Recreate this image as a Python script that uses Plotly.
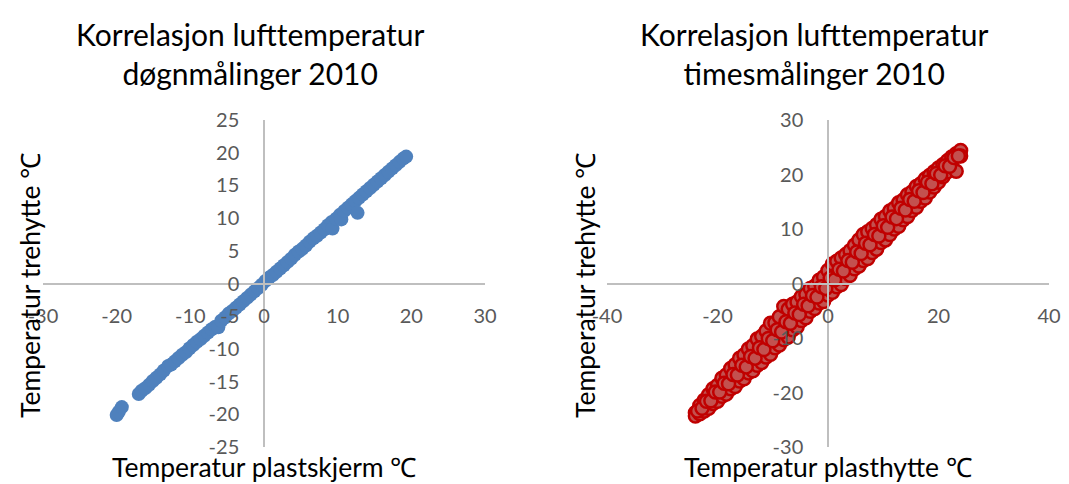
import plotly.graph_objects as go

# ---------------- data ----------------
# Daily measurements 2010 (plastskjerm vs trehytte)
daily_x = [-20.0, -19.7, -19.3, -17.0, -16.6, -16.1, -15.6, -15.1, -14.6, -14.1, -13.6,
           -13.0, -12.6, -12.1, -11.6, -11.1, -10.6, -10.1, -9.6, -9.1, -8.6, -8.1,
           -7.6, -7.1, -6.6, -6.2, -5.8, -5.3, -4.8, -4.3, -3.8, -3.3, -2.8, -2.3,
           -1.8, -1.3, -0.8, -0.3, 0.2, 0.7, 1.2, 1.7, 2.2, 2.7, 3.2, 3.7, 4.2, 4.7,
           5.2, 5.7, 6.2, 6.7, 7.2, 7.7, 8.2, 8.7, 9.2, 9.3, 9.8, 10.3, 10.5, 10.9,
           11.4, 11.9, 12.4, 12.7, 12.9, 13.4, 13.9, 14.4, 14.9, 15.4, 15.9, 16.4,
           16.9, 17.4, 17.9, 18.4, 18.9, 19.3]
daily_y = [-20.1, -19.6, -18.9, -16.9, -16.4, -16.0, -15.5, -14.9, -14.4, -13.9, -13.3,
           -12.6, -12.4, -11.9, -11.4, -10.9, -10.5, -9.9, -9.4, -8.9, -8.5, -8.0,
           -7.5, -7.0, -6.6, -6.7, -5.7, -5.2, -4.6, -4.2, -3.7, -3.2, -2.7, -2.2,
           -1.7, -1.2, -0.7, -0.2, 0.4, 0.9, 1.3, 1.8, 2.3, 2.8, 3.3, 3.8, 4.4, 4.9,
           5.3, 5.8, 6.4, 6.9, 7.3, 7.8, 8.3, 8.9, 9.4, 8.4, 9.9, 10.5, 9.8, 11.1,
           11.6, 12.1, 12.6, 10.8, 13.1, 13.6, 14.1, 14.6, 15.1, 15.6, 16.1, 16.6,
           17.1, 17.6, 18.1, 18.6, 19.1, 19.4]

# Hourly measurements 2010 (plasthytte vs trehytte), read as three bands
hourly_edge_x = [-24.0, -23.2, -22.4, -21.6, -20.8, -20.0, -19.2, -18.4, -17.6, -16.8,
                 -16.0, -15.2, -14.4, -13.6, -12.8, -12.0, -11.2, -10.4, -9.6, -8.8,
                 -8.0, -7.2, -6.4, -5.6, -4.8, -4.0, -3.2, -2.4, -1.6, -0.8,
                 0.0, 0.8, 1.6, 2.4, 3.2, 4.0, 4.8, 5.6, 6.4, 7.2,
                 8.0, 8.8, 9.6, 10.4, 11.2, 12.0, 12.8, 13.6, 14.4, 15.2,
                 16.0, 16.8, 17.6, 18.4, 19.2, 20.0, 20.8, 21.6, 22.4, 23.2, 24.0]
hourly_upper_y = [-23.7, -22.4, -21.4, -20.4, -19.3, -18.7, -17.4, -16.8, -15.6, -14.9,
                  -13.7, -13.1, -12.0, -11.4, -10.2, -9.7, -8.7, -7.3, -7.2, -6.1,
                  -4.2, -4.7, -3.8, -3.4, -2.4, -2.0, -0.9, -0.5, 0.6, 1.2,
                  2.4, 3.6, 4.1, 4.7, 5.3, 6.0, 7.0, 8.0, 9.0, 9.5,
                  10.1, 10.8, 11.8, 12.3, 13.3, 13.8, 14.8, 15.3, 16.3, 16.8,
                  17.8, 18.3, 19.2, 19.8, 20.5, 21.2, 21.8, 22.5, 23.2, 23.8, 24.4]
hourly_lower_y = [-24.3, -23.9, -23.4, -22.9, -22.0, -21.6, -20.7, -20.3, -19.3, -18.9,
                  -17.9, -17.5, -16.4, -16.0, -15.0, -14.5, -13.5, -13.0, -11.8, -11.3,
                  -10.3, -9.8, -8.5, -8.0, -6.8, -6.3, -5.1, -4.6, -3.6, -3.3,
                  -2.1, -1.6, -0.6, -0.2, 0.9, 1.5, 2.7, 3.2, 4.2, 4.6,
                  5.7, 6.3, 7.5, 8.0, 9.0, 10.0, 10.5, 11.7, 12.3, 13.4,
                  14.0, 15.1, 15.7, 16.8, 17.7, 18.6, 19.6, 20.5, 21.4, 20.6, 23.4]
hourly_mid_x = [-23.6, -22.8, -22.0, -21.2, -20.4, -19.6, -18.8, -18.0, -17.2, -16.4,
                -15.6, -14.8, -14.0, -13.2, -12.4, -11.6, -10.8, -10.0, -9.2, -8.4,
                -7.6, -6.8, -6.0, -5.2, -4.4, -3.6, -2.8, -2.0, -1.2, -0.4,
                0.4, 1.2, 2.0, 2.8, 3.6, 4.4, 5.2, 6.0, 6.8, 7.6,
                8.4, 9.2, 10.0, 10.8, 11.6, 12.4, 13.2, 14.0, 14.8, 15.6,
                16.4, 17.2, 18.0, 18.8, 19.6, 20.4, 21.2, 22.0, 22.8, 23.6]
hourly_mid_y = [-23.4, -22.9, -21.6, -21.5, -19.9, -19.9, -18.3, -18.4, -16.7, -16.8,
                -15.0, -15.3, -13.4, -13.7, -11.8, -12.1, -10.1, -10.5, -8.5, -8.9,
                -7.0, -7.3, -5.4, -5.7, -3.8, -4.1, -2.2, -2.5, -0.6, -0.9,
                1.0, 0.7, 2.6, 2.3, 4.2, 3.9, 5.8, 5.5, 7.4, 7.1,
                9.0, 8.7, 10.6, 10.3, 12.2, 11.9, 13.8, 13.5, 15.4, 15.1,
                17.0, 16.7, 18.6, 18.3, 20.2, 19.9, 21.6, 21.5, 23.1, 23.4]

# edges first, middle band drawn on top
hourly_x = hourly_edge_x + hourly_edge_x + hourly_mid_x
hourly_y = hourly_upper_y + hourly_lower_y + hourly_mid_y

x1_ticks = [-30, -20, -10, 0, 10, 20, 30]
y1_ticks = [-25, -20, -15, -10, -5, 0, 5, 10, 15, 20, 25]
x2_ticks = [-40, -20, 0, 20, 40]
y2_ticks = [-30, -20, -10, 0, 10, 20, 30]

# ---------------- layout geometry ----------------
W, H = 1069, 484
def px(x):
    return x / W
def py(y):
    return 1 - y / H

dom_y = [py(447), py(120)]
dom_x1 = [px(43), px(485)]
dom_x2 = [px(607), px(1049)]
mid_y = (dom_y[0] + dom_y[1]) / 2
mid_x1 = (dom_x1[0] + dom_x1[1]) / 2
mid_x2 = (dom_x2[0] + dom_x2[1]) / 2

FONT = "Lato, 'Open Sans', sans-serif"
TICK_FONT = dict(family=FONT, size=20, color="#595959")
AXIS_LINE = "#BFBFBF"

fig = go.Figure()
fig.add_trace(go.Scatter(
    x=daily_x, y=daily_y, mode="markers", xaxis="x", yaxis="y",
    marker=dict(size=14, color="#4F81BD", line=dict(width=0)),
    showlegend=False, hoverinfo="skip"))
fig.add_trace(go.Scatter(
    x=hourly_x, y=hourly_y, mode="markers", xaxis="x2", yaxis="y2",
    marker=dict(size=13, color="#C3514F", line=dict(width=2.5, color="#C00000")),
    showlegend=False, hoverinfo="skip"))

def labels(ticks):
    return [str(t) for t in ticks]  # plain hyphen-minus like the reference

def axis(domain, pos, rng, ticks, standoff):
    return dict(domain=domain, anchor="free", position=pos, range=rng,
                tickvals=ticks, ticktext=labels(ticks), showgrid=False,
                zeroline=False, showline=True, automargin=False,
                linecolor=AXIS_LINE, linewidth=1.5, ticks="",
                ticklabelstandoff=standoff, tickfont=TICK_FONT, fixedrange=True)

fig.update_layout(
    width=W, height=H,
    margin=dict(l=0, r=0, t=0, b=0, autoexpand=False),
    paper_bgcolor="white", plot_bgcolor="white",
    hovermode=False,
    xaxis=axis(dom_x1, mid_y, [-30, 30], x1_ticks, 15),
    yaxis=axis(dom_y, mid_x1, [-25, 25], y1_ticks, 20),
    xaxis2=axis(dom_x2, mid_y, [-40, 40], x2_ticks, 15),
    yaxis2=axis(dom_y, mid_x2, [-30, 30], y2_ticks, 20),
)

TITLE_FONT = dict(family=FONT, size=30, color="#000000")
AXT_FONT = dict(family=FONT, size=26.5, color="#000000")

annotations = [
    dict(text="Korrelasjon lufttemperatur<br>døgnmålinger 2010", x=px(250), y=py(53),
         font=TITLE_FONT),
    dict(text="Korrelasjon lufttemperatur<br>timesmålinger 2010", x=px(814), y=py(53),
         font=TITLE_FONT),
    dict(text="Temperatur plastskjerm ℃", x=px(264), y=py(467), font=AXT_FONT),
    dict(text="Temperatur plasthytte ℃", x=px(828), y=py(467), font=AXT_FONT),
    dict(text="Temperatur trehytte ℃", x=px(30), y=py(286), font=AXT_FONT, textangle=-90),
    dict(text="Temperatur trehytte ℃", x=px(585), y=py(286), font=AXT_FONT, textangle=-90),
]
for a in annotations:
    a.update(xref="paper", yref="paper", showarrow=False, xanchor="center",
             yanchor="middle")
fig.update_layout(annotations=annotations)

fig.write_html("out.html",
               config={"displayModeBar": False},
               post_script="document.body.style.margin='0';"
                           "document.body.style.overflow='hidden';")
